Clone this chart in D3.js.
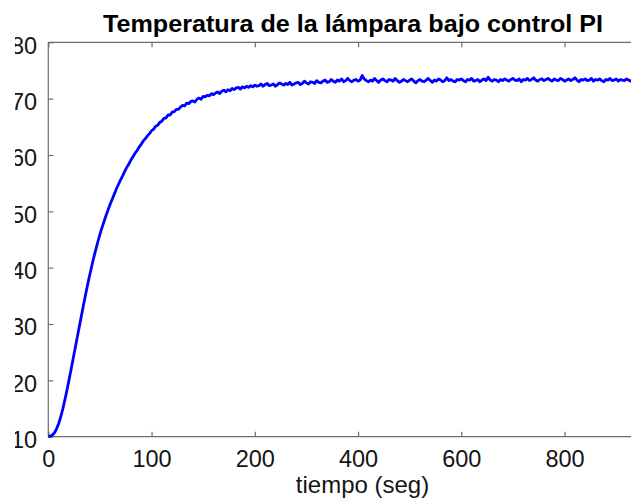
<!DOCTYPE html>
<html>
<head>
<meta charset="utf-8">
<script src="https://cdn.jsdelivr.net/npm/d3@7/dist/d3.min.js"></script>
<style>
  html, body { margin: 0; padding: 0; background: #ffffff; }
  svg { display: block; }
  text { font-family: "Liberation Sans", Arial, Helvetica, sans-serif; }
</style>
</head>
<body>
<svg id="chart" width="631" height="500"></svg>
<script>
// Temperatura de la lámpara (°C) frente al tiempo (s), lazo cerrado con control PI

// Arranque: muestreo cada 2 s
const tiempoSubida = [
  0, 2, 4, 6, 8, 10, 12, 14, 16, 18, 20, 22, 24, 26, 28, 30, 32, 34, 36, 38,
  40, 42, 44, 46, 48, 50, 52, 54, 56, 58, 60, 62, 64, 66, 68, 70, 72, 74, 76, 78,
  80, 82, 84, 86, 88, 90, 92, 94, 96, 98, 100, 102, 104, 106, 108, 110, 112, 114, 116, 118,
  120, 122, 124, 126, 128, 130, 132, 134, 136, 138, 140, 142, 144, 146, 148, 150, 152, 154, 156, 158,
  160, 162, 164, 166, 168, 170, 172, 174, 176, 178, 180, 182, 184, 186, 188, 190, 192, 194, 196, 198
];
const tempSubida = [
  10.0, 10.1, 10.3, 10.7, 11.4, 12.3, 13.5, 14.9, 16.5, 18.2, 20.0, 21.9, 23.8, 25.7, 27.6, 29.5, 31.4, 33.3, 35.1, 36.9,
  38.6, 40.2, 41.8, 43.2, 44.6, 45.9, 47.1, 48.2, 49.3, 50.3, 51.3, 52.2, 53.1, 54.0, 54.8, 55.6, 56.3, 57.1, 57.8, 58.4,
  59.1, 59.7, 60.3, 60.8, 61.4, 61.9, 62.5, 62.9, 63.4, 63.8, 64.3, 64.6, 65.1, 65.3, 65.8, 66.0, 66.5, 66.6, 67.1, 67.1,
  67.6, 67.7, 68.1, 68.1, 68.5, 68.8, 68.7, 69.2, 69.1, 69.5, 69.6, 69.4, 69.9, 70.1, 69.9, 70.4, 70.3, 70.6, 70.5, 70.9,
  70.7, 71.0, 71.2, 70.9, 71.3, 71.5, 71.2, 71.6, 71.4, 71.8, 71.6, 71.9, 72.0, 71.7, 72.1, 71.9, 72.2, 72.0, 72.3, 72.1
];

// Régimen permanente: muestreo cada 4 s
const tiempoEstable = [
  200, 204, 208, 212, 216, 220, 224, 228, 232, 236, 240, 244, 248, 252, 256, 260, 264, 268, 272, 276,
  280, 284, 288, 292, 296, 300, 304, 308, 312, 316, 320, 324, 328, 332, 336, 340, 344, 348, 352, 356,
  360, 364, 368, 372, 376, 380, 384, 388, 392, 396, 400, 404, 408, 412, 416, 420, 424, 428, 432, 436,
  440, 444, 448, 452, 456, 460, 464, 468, 472, 476, 480, 484, 488, 492, 496, 500, 504, 508, 512, 516,
  520, 524, 528, 532, 536, 540, 544, 548, 552, 556, 560, 564, 568, 572, 576, 580, 584, 588, 592, 596,
  600, 604, 608, 612, 616, 620, 624, 628, 632, 636, 640, 644, 648, 652, 656, 660, 664, 668, 672, 676,
  680, 684, 688, 692, 696, 700, 704, 708, 712, 716, 720, 724, 728, 732, 736, 740, 744, 748, 752, 756,
  760, 764, 768, 772, 776, 780, 784, 788, 792, 796, 800, 804, 808, 812, 816, 820, 824, 828, 832, 836,
  840, 844, 848, 852, 856, 860, 864, 868, 872, 876, 880, 884, 888, 892, 896, 900, 904, 908, 912, 916,
  920, 924, 928, 932, 936, 940
];
const tempEstable = [
  72.4, 72.2, 72.3, 72.6, 72.2, 72.5, 72.7, 72.3, 72.4, 72.6, 72.2, 72.5, 72.8, 72.6, 72.4, 72.7, 72.5, 72.9, 72.4, 72.6,
  72.8, 72.9, 72.5, 72.7, 73.1, 72.8, 72.6, 73.0, 72.9, 72.7, 73.2, 72.9, 72.8, 73.1, 73.3, 72.9, 73.0, 73.4, 73.1, 72.9,
  73.3, 73.1, 73.5, 73.0, 73.2, 73.6, 73.2, 73.0, 73.3, 73.4, 73.1, 73.3, 74.1, 73.5, 73.2, 73.0, 73.3, 73.1, 73.6, 73.2,
  72.9, 73.3, 73.5, 73.2, 73.0, 73.4, 73.3, 73.1, 73.6, 73.2, 72.9, 73.1, 73.4, 73.2, 73.0, 73.3, 73.5, 73.1, 72.8, 73.2,
  73.4, 73.1, 73.0, 73.3, 73.6, 73.2, 72.9, 73.3, 73.1, 73.5, 73.3, 73.0, 73.2, 73.7, 73.2, 73.4, 73.1, 73.0, 73.4, 73.3,
  73.5, 73.2, 73.0, 73.4, 73.3, 73.6, 73.1, 73.2, 73.4, 73.0, 73.3, 73.5, 73.2, 73.8, 73.3, 73.1, 73.4, 73.3, 73.0, 73.4,
  73.2, 73.5, 73.3, 73.1, 73.4, 73.6, 73.3, 73.2, 73.5, 73.0, 73.4, 73.3, 73.6, 73.2, 73.4, 73.7, 73.3, 73.1, 73.4, 73.5,
  73.2, 73.4, 73.6, 73.3, 73.1, 73.5, 73.3, 73.2, 73.6, 73.4, 73.1, 73.3, 73.5, 73.2, 73.4, 73.7, 73.3, 73.0, 73.4, 73.3,
  73.5, 73.2, 73.3, 73.6, 73.1, 73.4, 73.3, 73.5, 73.2, 73.0, 73.4, 73.3, 73.6, 73.2, 73.3, 73.5, 73.1, 73.4, 73.3, 73.2,
  73.5, 73.3, 73.1, 73.4, 73.3, 73.2
];

const ticksX = [0, 100, 200, 400, 600, 800];
const ticksY = [10, 20, 30, 40, 50, 60, 70, 80];

const titulo = "Temperatura de la lámpara bajo control PI";
const etiquetaX = "tiempo (seg)";

const datos = tiempoSubida.map((t, i) => ({ t, v: tempSubida[i] }))
  .concat(tiempoEstable.map((t, i) => ({ t, v: tempEstable[i] })));

const svg = d3.select("#chart");
const W = 631, H = 500;
svg.append("rect").attr("width", W).attr("height", H).attr("fill", "#ffffff");

// Plot box
const x0 = 48.3, yTop = 42.3, yBot = 436.7;

// Eje de tiempo por tramos: 0–200 s ocupa dos divisiones, luego cada división vale 200 s
const x = d3.scaleLinear()
  .domain([0, 200, 1000])
  .range([x0, x0 + 206.5, x0 + 206.5 + 413]);
const y = d3.scaleLinear().domain([10, 80]).range([yBot, yTop]);

const axisColor = "#6c6c6c";
const textColor = "#141414";
const fontFam = '"Liberation Sans", Arial, sans-serif';
const xEnd = x(1000);

// Frame lines (bottom, top, left)
const marco = svg.append("g").attr("stroke", axisColor).attr("stroke-width", 1.2).attr("fill", "none");
marco.append("line").attr("x1", x0).attr("x2", xEnd).attr("y1", yBot).attr("y2", yBot);
marco.append("line").attr("x1", x0).attr("x2", xEnd).attr("y1", yTop).attr("y2", yTop);
marco.append("line").attr("x1", x0).attr("x2", x0).attr("y1", yTop).attr("y2", yBot);

// Bottom axis with inward ticks
const gx = svg.append("g")
  .attr("transform", `translate(0,${yBot})`)
  .call(d3.axisBottom(x).tickValues(ticksX).tickSize(-5).tickPadding(13.8).tickFormat(d3.format("d")));
gx.select(".domain").remove();
gx.selectAll(".tick line").attr("stroke", axisColor).attr("stroke-width", 1.2);
gx.selectAll(".tick text").attr("fill", textColor).attr("font-size", 23.5)
  .style("font-family", fontFam);

// Mirrored ticks on the top edge
const gxt = svg.append("g")
  .attr("transform", `translate(0,${yTop})`)
  .call(d3.axisTop(x).tickValues(ticksX).tickSize(-5).tickFormat(""));
gxt.select(".domain").remove();
gxt.selectAll(".tick line").attr("stroke", axisColor).attr("stroke-width", 1.2);

// Left axis with inward ticks; the figure's left margin trims the leading digit
const gy = svg.append("g")
  .attr("transform", `translate(${x0},0)`)
  .call(d3.axisLeft(y).tickValues(ticksY).tickSize(-5).tickPadding(11.2).tickFormat(d3.format("d")));
gy.select(".domain").remove();
gy.selectAll(".tick line").attr("stroke", axisColor).attr("stroke-width", 1.2);
gy.selectAll(".tick text").attr("fill", textColor).attr("font-size", 23.5)
  .attr("dy", "10.8px")
  .style("font-family", fontFam);
svg.append("rect").attr("x", 0).attr("y", 0).attr("width", 15).attr("height", H).attr("fill", "#ffffff");

// Temperature trace
const linea = d3.line().x(d => x(d.t)).y(d => y(d.v));
svg.append("path")
  .datum(datos)
  .attr("fill", "none")
  .attr("stroke", "#0000ff")
  .attr("stroke-width", 2.8)
  .attr("stroke-linejoin", "round")
  .attr("d", linea);

// Title
svg.append("text")
  .attr("x", 353).attr("y", 32)
  .attr("text-anchor", "middle")
  .attr("font-size", 23.5).attr("font-weight", "bold")
  .attr("textLength", 500).attr("lengthAdjust", "spacingAndGlyphs")
  .attr("fill", "#000000")
  .text(titulo);

// X label
svg.append("text")
  .attr("x", 362.5).attr("y", 493)
  .attr("text-anchor", "middle")
  .attr("font-size", 24)
  .attr("fill", textColor)
  .text(etiquetaX);
</script>
</body>
</html>
